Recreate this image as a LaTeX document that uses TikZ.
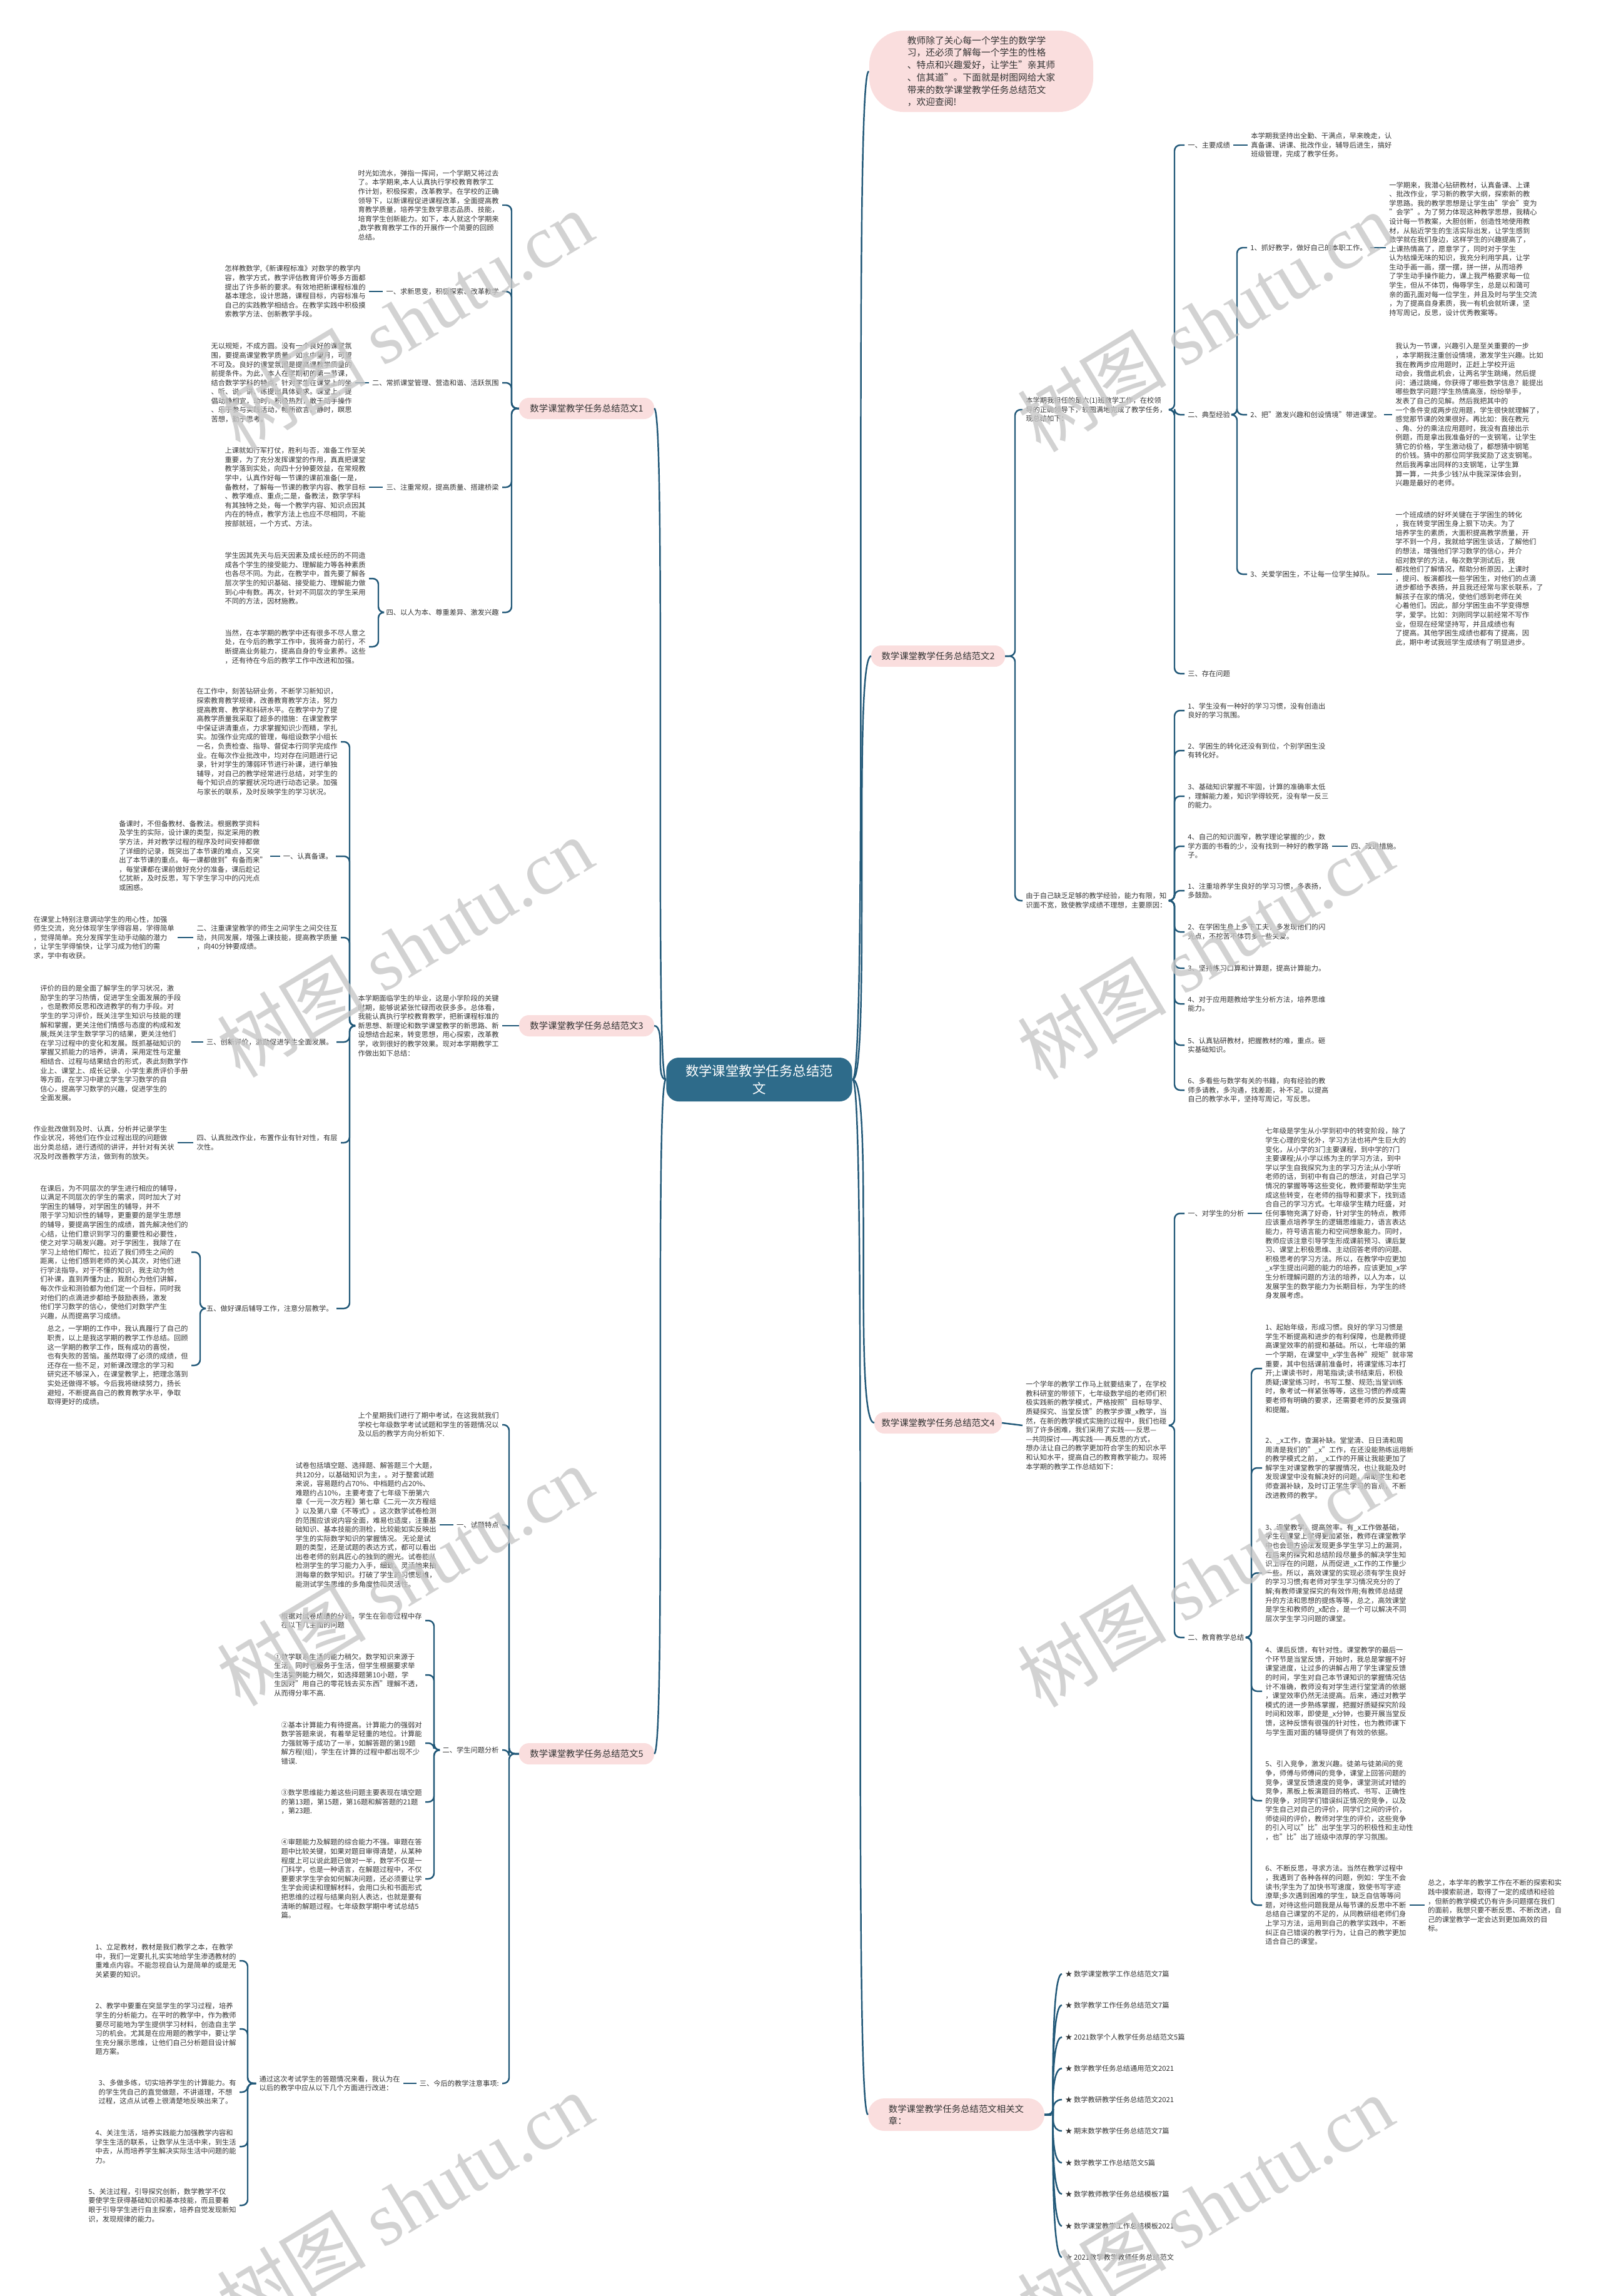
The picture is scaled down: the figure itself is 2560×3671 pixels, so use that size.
\documentclass[tikz,border=0pt]{standalone}
\usepackage{fontspec}
\setmainfont{Noto Sans CJK SC}
\newfontfamily\markfont{Liberation Serif}
\definecolor{wire}{RGB}{33,88,120}
\definecolor{blush}{RGB}{250,222,222}
\definecolor{ink}{RGB}{51,51,51}
\definecolor{deep}{RGB}{46,107,138}
\newcommand\leafsize{\fontsize{3.2pt}{4.15pt}\selectfont}
\tikzset{
  leaf/.style={font=\leafsize, text=ink, align=left, inner sep=0pt, outer sep=1.5pt},
  fan/.style={fill=blush, text=ink, rounded corners=0.16cm, minimum height=0.34cm, inner sep=0pt, outer sep=0pt, font=\fontsize{4.1pt}{5.4pt}\selectfont},
  conn/.style={draw=wire, line width=0.7pt, rounded corners=0.09cm},
  stamp/.style={text=black!22, text opacity=0.8, rotate=31, inner sep=0pt, font=\fontsize{34pt}{34pt}\selectfont},
}
\begin{document}
\begin{tikzpicture}[x=0.01cm,y=-0.01cm]
\useasboundingbox (0,0) rectangle (2560,3671);

\node[fill=deep, text=white, rounded corners=0.2cm, minimum width=2.97cm, minimum height=0.70cm, inner sep=0pt, align=center, font=\fontsize{6.1pt}{8pt}\selectfont] (root) at (1214,1726) {数学课堂教学任务总结范\\文};

\node[fill=blush, text=ink, rounded corners=0.55cm, minimum width=3.58cm, minimum height=1.30cm, inner sep=0pt, align=left, font=\fontsize{4.2pt}{5.6pt}\selectfont] (lead) at (1569,114) {教师除了关心每一个学生的数学学\\习，还必须了解每一个学生的性格\\、特点和兴趣爱好，让学生"亲其师\\、信其道"。下面就是树图网给大家\\带来的数学课堂教学任务总结范文\\，欢迎查阅!};

\node[fan, minimum width=2.16cm] (fanA) at (938,653) {数学课堂教学任务总结范文1};
\node[fan, minimum width=2.16cm] (fanC) at (938,1640) {数学课堂教学任务总结范文3};
\node[fan, minimum width=2.16cm] (fanE) at (938,2804) {数学课堂教学任务总结范文5};
\node[fan, minimum width=2.14cm] (fanB) at (1500,1049) {数学课堂教学任务总结范文2};
\node[fan, minimum width=2.04cm] (fanD) at (1500,2275) {数学课堂教学任务总结范文4};
\node[fan, minimum width=2.82cm, minimum height=0.52cm, rounded corners=0.26cm, align=left] (fanF) at (1529,3381) {数学课堂教学任务总结范文相关文\\章：};

\draw[conn] (root.west) .. controls (1046,1726) and (1066,653) .. (fanA.east);
\draw[conn] (root.west) .. controls (1046,1726) and (1066,1640) .. (fanC.east);
\draw[conn] (root.west) .. controls (1046,1726) and (1066,2804) .. (fanE.east);
\draw[conn] (root.east) .. controls (1390,1726) and (1363,114) .. (lead.west);
\draw[conn] (root.east) .. controls (1393,1726) and (1363,1049) .. (fanB.west);
\draw[conn] (root.east) .. controls (1398,1726) and (1363,2275) .. (fanD.west);
\draw[conn] (root.east) .. controls (1388,1726) and (1363,3381) .. (fanF.west);

\coordinate (tA) at (818,0);
\coordinate (tA4) at (605,0);
\coordinate (tC) at (559,0);
\coordinate (tC6) at (320,0);
\coordinate (tE) at (814,0);
\coordinate (tE2) at (694,0);
\coordinate (tE3) at (396,0);
\coordinate (tB) at (1623,0);
\coordinate (tB0) at (1878,0);
\coordinate (tB02) at (1978,0);
\coordinate (tD) at (1878,0);
\coordinate (tD2) at (2001,0);

\node[leaf, anchor=east] (a0) at (803,328) {时光如流水，弹指一挥间，一个学期又将过去\\了。本学期来,本人认真执行学校教育教学工\\作计划，积极探索，改革教学。在学校的正确\\领导下，以新课程促进课程改革，全面提高教\\育教学质量，培养学生数学意志品质、技能，\\培育学生创新能力。如下，本人就这个学期来\\,数学教育教学工作的开展作一个简要的回顾\\总结。};
\node[leaf, anchor=east] (a1) at (803,466) {一、求新思变，积极探索、改革教学};
\node[leaf, anchor=east] (a1t) at (590,466) {怎样教数学,《新课程标准》对数学的教学内\\容，教学方式，教学评估教育评价等多方面都\\提出了许多新的要求。有效地把新课程标准的\\基本理念，设计思路，课程目标，内容标准与\\自己的实践教学相结合。在教学实践中积极摸\\索教学方法、创新教学手段。};
\node[leaf, anchor=east] (a2) at (803,612) {二、常抓课堂管理、营造和谐、活跃氛围};
\node[leaf, anchor=east] (a2t) at (568,612) {无以规矩，不成方圆。没有一个良好的课堂氛\\围，要提高课堂教学质量，如水中望月，可望\\不可及。良好的课堂氛围是提高课教学质量的\\前提条件。为此，本人在学期初的第一节课，\\结合数学学科的特点，针对学生在课堂上的坐\\、听、说、讲、练提出具体要求。课堂上，提\\倡动静相宜，动时，积极热烈，敢于动手操作\\、乐于参与实践活动，畅所欲言。静时，瞑思\\苦想，勤于思考。};
\node[leaf, anchor=east] (a3) at (803,779) {三、注重常规，提高质量、搭建桥梁};
\node[leaf, anchor=east] (a3t) at (590,779) {上课就如行军打仗，胜利与否，准备工作至关\\重要，为了充分发挥课堂的作用，真真把课堂\\教学落到实处，向四十分钟要效益，在常规教\\学中，认真作好每一节课的课前准备(一是，\\备教材，了解每一节课的教学内容、教学目标\\、教学难点、重点;二是，备教法，数学学科\\有其独特之处，每一个教学内容、知识点因其\\内在的特点，教学方法上也应不尽相同，不能\\按部就班，一个方式、方法。};
\node[leaf, anchor=east] (a4) at (803,979) {四、以人为本、尊重差异、激发兴趣};
\node[leaf, anchor=east] (a4t1) at (590,925) {学生因其先天与后天因素及成长经历的不同造\\成各个学生的接受能力、理解能力等各种素质\\也各尽不同。为此，在教学中，首先要了解各\\层次学生的知识基础、接受能力、理解能力做\\到心中有数。再次，针对不同层次的学生采用\\不同的方法，因材施教。};
\node[leaf, anchor=east] (a4t2) at (590,1034) {当然，在本学期的教学中还有很多不尽人意之\\处，在今后的教学工作中，我将奋力前行，不\\断提高业务能力，提高自身的专业素养。这些\\，还有待在今后的教学工作中改进和加强。};

\draw[conn] (fanA.west) -- (fanA.west -| tA) |- (a0.east);
\draw[conn] (fanA.west) -- (fanA.west -| tA) |- (a1.east);
\draw[conn] (fanA.west) -- (fanA.west -| tA) |- (a2.east);
\draw[conn] (fanA.west) -- (fanA.west -| tA) |- (a3.east);
\draw[conn] (fanA.west) -- (fanA.west -| tA) |- (a4.east);
\draw[conn] (a1.west) -- (a1.west -| a1t.east);
\draw[conn] (a2.west) -- (a2.west -| a2t.east);
\draw[conn] (a3.west) -- (a3.west -| a3t.east);
\draw[conn] (a4.west) -- (a4.west -| tA4) |- (a4t1.east);
\draw[conn] (a4.west) -- (a4.west -| tA4) |- (a4t2.east);

\node[leaf, anchor=east] (c0) at (803,1640) {本学期面临学生的毕业，这是小学阶段的关键\\时期，能够说紧张忙碌而收获多多。总体看，\\我能认真执行学校教育教学，把新课程标准的\\新思想、新理论和数学课堂教学的新思路、新\\设想结合起来，转变思想，用心探索，改革教\\学，收到很好的教学效果。现对本学期教学工\\作做出如下总结：};
\node[leaf, anchor=east] (c1) at (545,1186) {在工作中，刻苦钻研业务，不断学习新知识，\\探索教育教学规律，改善教育教学方法，努力\\提高教育、教学和科研水平。在教学中为了提\\高教学质量我采取了超多的措施：在课堂教学\\中保证讲清重点，力求掌握知识少而精，学扎\\实。加强作业完成的管理，每组设数学小组长\\一名，负责检查、指导、督促本行同学完成作\\业。在每次作业批改中，均对存在问题进行记\\录，针对学生的薄弱环节进行补课，进行单独\\辅导，对自己的教学经常进行总结，对学生的\\每个知识点的掌握状况均进行动态记录。加强\\与家长的联系，及时反映学生的学习状况。};
\node[leaf, anchor=east] (c2) at (537,1369) {一、认真备课。};
\node[leaf, anchor=east] (c2t) at (432,1368) {备课时，不但备教材、备教法。根据教学资料\\及学生的实际，设计课的类型，拟定采用的教\\学方法，并对教学过程的程序及时间安排都做\\了详细的记录，既突出了本节课的难点，又突\\出了本节课的重点。每一课都做到"有备而来"\\，每堂课都在课前做好充分的准备，课后趁记\\忆犹新，及时反思，写下学生学习中的闪光点\\或困惑。};
\node[leaf, anchor=east] (c3) at (545,1499) {二、注重课堂教学的师生之间学生之间交往互\\动，共同发展，增强上课技能，提高教学质量\\，向40分钟要成绩。};
\node[leaf, anchor=east] (c3t) at (284,1499) {在课堂上特别注意调动学生的用心性，加强\\师生交流，充分体现学生学得容易，学得简单\\，觉得简单。充分发挥学生动手动脑的潜力\\，让学生学得愉快，让学习成为他们的需\\求，学中有收获。};
\node[leaf, anchor=east] (c4) at (538,1666) {三、创新评价，激励促进学生全面发展。};
\node[leaf, anchor=east] (c4t) at (306,1668) {评价的目的是全面了解学生的学习状况，激\\励学生的学习热情，促进学生全面发展的手段\\，也是教师反思和改进教学的有力手段。对\\学生的学习评价，既关注学生知识与技能的理\\解和掌握，更关注他们情感与态度的构成和发\\展;既关注学生数学学习的结果，更关注他们\\在学习过程中的变化和发展。既抓基础知识的\\掌握又抓能力的培养，讲清，采用定性与定量\\相结合、过程与结果结合的形式，表此刻数学作\\业上、课堂上、成长记录、小学生素质评价手册\\等方面，在学习中建立学生学习数学的自\\信心，提高学习数学的兴趣，促进学生的\\全面发展。};
\node[leaf, anchor=east] (c5) at (545,1827) {四、认真批改作业，布置作业有针对性，有层\\次性。};
\node[leaf, anchor=east] (c5t) at (284,1827) {作业批改做到及时、认真，分析并记录学生\\作业状况，将他们在作业过程出现的问题做\\出分类总结，进行透彻的讲评，并针对有关状\\况及时改善教学方法，做到有的放矢。};
\node[leaf, anchor=east] (c6) at (538,2092) {五、做好课后辅导工作，注意分层教学。};
\node[leaf, anchor=east] (c6t1) at (306,2002) {在课后，为不同层次的学生进行相应的辅导，\\以满足不同层次的学生的需求，同时加大了对\\学困生的辅导，对学困生的辅导，并不\\限于学习知识性的辅导，更重要的是学生思想\\的辅导，要提高学困生的成绩，首先解决他们的\\心结，让他们意识到学习的重要性和必要性，\\使之对学习萌发兴趣。对于学困生，我除了在\\学习上给他们帮忙，拉近了我们师生之间的\\距离，让他们感到老师的关心其次，对他们进\\行学法指导。对于不懂的知识，我主动为他\\们补课，直到弄懂为止，我耐心为他们讲解，\\每次作业和测验都为他们定一个目标，同时我\\对他们的点滴进步都给予鼓励表扬，激发\\他们学习数学的信心，使他们对数学产生\\兴趣，从而提高学习成绩。};
\node[leaf, anchor=east] (c6t2) at (306,2183) {总之，一学期的工作中，我认真履行了自己的\\职责，以上是我这学期的教学工作总结。回顾\\这一学期的教学工作，既有成功的喜悦，\\也有失败的苦恼。虽然取得了必须的成绩，但\\还存在一些不足，对新课改理念的学习和\\研究还不够深入，在课堂教学上，把理念落到\\实处还做得不够。今后我将继续努力，扬长\\避短，不断提高自己的教育教学水平，争取\\取得更好的成绩。};

\draw[conn] (fanC.west) -- (c0.east);
\draw[conn] (c0.west) -- (c0.west -| tC) |- (c1.east);
\draw[conn] (c0.west) -- (c0.west -| tC) |- (c2.east);
\draw[conn] (c0.west) -- (c0.west -| tC) |- (c3.east);
\draw[conn] (c0.west) -- (c0.west -| tC) |- (c4.east);
\draw[conn] (c0.west) -- (c0.west -| tC) |- (c5.east);
\draw[conn] (c0.west) -- (c0.west -| tC) |- (c6.east);
\draw[conn] (c2.west) -- (c2.west -| c2t.east);
\draw[conn] (c3.west) -- (c3.west -| c3t.east);
\draw[conn] (c4.west) -- (c4.west -| c4t.east);
\draw[conn] (c5.west) -- (c5.west -| c5t.east);
\draw[conn] (c6.west) -- (c6.west -| tC6) |- (c6t1.east);
\draw[conn] (c6.west) -- (c6.west -| tC6) |- (c6t2.east);

\node[leaf, anchor=east] (e0) at (803,2278) {上个星期我们进行了期中考试，在这我就我们\\学校七年级数学考试试题和学生的答题情况以\\及以后的教学方向分析如下.};
\node[leaf, anchor=east] (e1) at (803,2438) {一、试题特点};
\node[leaf, anchor=east] (e1t) at (703,2438) {试卷包括填空题、选择题、解答题三个大题，\\共120分，以基础知识为主，。对于整套试题\\来说，容易题约占70\%、中档题约占20\%、\\难题约占10\%，主要考查了七年级下册第六\\章《一元一次方程》第七章《二元一次方程组\\》以及第八章《不等式》。这次数学试卷检测\\的范围应该说内容全面，难易也适度，注重基\\础知识、基本技能的测检，比较能如实反映出\\学生的实际数学知识的掌握情况。 无论是试\\题的类型，还是试题的表达方式，都可以看出\\出卷老师的别具匠心的独到的眼光。试卷能从\\检测学生的学习能力入手，细致、灵活地来抽\\测每章的数学知识。打破了学生的习惯思维，\\能测试学生思维的多角度性和灵活性。};
\node[leaf, anchor=east] (e2) at (803,2798) {二、学生问题分析};
\node[leaf, anchor=east] (e2t1) at (680,2591) {根据对试卷成绩的分析，学生在答卷过程中存\\在以下几主面的问题};
\node[leaf, anchor=east] (e2t2) at (680,2678) {①数学联系生活的能力稍欠。数学知识来源于\\生活，同时也服务于生活，但学生根据要求举\\生活实例能力稍欠，如选择题第10小题，学\\生因对"用自己的零花钱去买东西"理解不透，\\从而得分率不高.};
\node[leaf, anchor=east] (e2t3) at (680,2787) {②基本计算能力有待提高。计算能力的强弱对\\数学答题来说，有着举足轻重的地位。计算能\\力强就等于成功了一半，如解答题的第19题\\解方程(组)，学生在计算的过程中都出现不少\\错误.};
\node[leaf, anchor=east] (e2t4) at (680,2881) {③数学思维能力差这些问题主要表现在填空题\\的第13题，第15题，第16题和解答题的21题\\，第23题.};
\node[leaf, anchor=east] (e2t5) at (680,3004) {④审题能力及解题的综合能力不强。审题在答\\题中比较关键，如果对题目审得清楚，从某种\\程度上可以说此题已做对一半，数学不仅是一\\门科学，也是一种语言，在解题过程中，不仅\\要要求学生学会如何解决问题，还必须要让学\\生学会阅读和理解材料，会用口头和书面形式\\把思维的过程与结果向别人表达，也就是要有\\清晰的解题过程。七年级数学期中考试总结5\\篇。};
\node[leaf, anchor=east] (e3) at (803,3331) {三、今后的教学注意事项:};
\node[leaf, anchor=east] (e3t) at (645,3331) {通过这次考试学生的答题情况来看，我认为在\\以后的教学中应从以下几个方面进行改进：};
\node[leaf, anchor=east] (e3t1) at (383,3135) {1、立足教材，教材是我们教学之本，在教学\\中，我们一定要扎扎实实地给学生渗透教材的\\重难点内容。不能忽视自认为是简单的或是无\\关紧要的知识。};
\node[leaf, anchor=east] (e3t2) at (383,3244) {2、教学中要重在突显学生的学习过程，培养\\学生的分析能力。在平时的教学中，作为教师\\要尽可能地为学生提供学习材料，创造自主学\\习的机会。尤其是在应用题的教学中，要让学\\生充分展示思维，让他们自己分析题目设计解\\题方案。};
\node[leaf, anchor=east] (e3t3) at (383,3345) {3、多做多练，切实培养学生的计算能力。有\\的学生凭自己的直觉做题，不讲道理，不想\\过程，这点从试卷上很清楚地反映出来了。};
\node[leaf, anchor=east] (e3t4) at (383,3432) {4、关注生活，培养实践能力加强教学内容和\\学生生活的联系，让数学从生活中来，到生活\\中去，从而培养学生解决实际生活中问题的能\\力。};
\node[leaf, anchor=east] (e3t5) at (383,3526) {5、关注过程，引导探究创新，数学教学不仅\\要使学生获得基础知识和基本技能，而且要着\\眼于引导学生进行自主探索，培养自觉发现新知\\识，发现规律的能力。};

\draw[conn] (fanE.west) -- (fanE.west -| tE) |- (e0.east);
\draw[conn] (fanE.west) -- (fanE.west -| tE) |- (e1.east);
\draw[conn] (fanE.west) -- (fanE.west -| tE) |- (e2.east);
\draw[conn] (fanE.west) -- (fanE.west -| tE) |- (e3.east);
\draw[conn] (e1.west) -- (e1.west -| e1t.east);
\draw[conn] (e2.west) -- (e2.west -| tE2) |- (e2t1.east);
\draw[conn] (e2.west) -- (e2.west -| tE2) |- (e2t2.east);
\draw[conn] (e2.west) -- (e2.west -| tE2) |- (e2t3.east);
\draw[conn] (e2.west) -- (e2.west -| tE2) |- (e2t4.east);
\draw[conn] (e2.west) -- (e2.west -| tE2) |- (e2t5.east);
\draw[conn] (e3.west) -- (e3.west -| e3t.east);
\draw[conn] (e3t.west) -- (e3t.west -| tE3) |- (e3t1.east);
\draw[conn] (e3t.west) -- (e3t.west -| tE3) |- (e3t2.east);
\draw[conn] (e3t.west) -- (e3t.west -| tE3) |- (e3t3.east);
\draw[conn] (e3t.west) -- (e3t.west -| tE3) |- (e3t4.east);
\draw[conn] (e3t.west) -- (e3t.west -| tE3) |- (e3t5.east);

\node[leaf, anchor=west] (b0) at (1635,655) {本学期我担任的是六(1)班数学工作，在校领\\导的正确领导下，较圆满地完成了教学任务，\\现总结如下：};
\node[leaf, anchor=west] (b01) at (1894,232) {一、主要成绩};
\node[leaf, anchor=west] (b01t) at (1995,232) {本学期我坚持出全勤、干满点，早来晚走，认\\真备课、讲课、批改作业，辅导后进生，搞好\\班级管理，完成了教学任务。};
\node[leaf, anchor=west] (b02) at (1894,663) {二、典型经验};
\node[leaf, anchor=west] (b021) at (1994,396) {1、抓好教学，做好自己的本职工作。};
\node[leaf, anchor=west] (b021t) at (2216,398) {一学期来，我潜心钻研教材，认真备课、上课\\、批改作业，学习新的教学大纲，探索新的教\\学思路。我的教学思想是让学生由"学会"变为\\"会学"。为了努力体现这种教学思想，我精心\\设计每一节教案，大胆创新，创造性地使用教\\材，从贴近学生的生活实际出发，让学生感到\\数学就在我们身边，这样学生的兴趣提高了，\\上课热情高了，愿意学了，同时对于学生\\认为枯燥无味的知识，我充分利用学具，让学\\生动手画一画，摆一摆，拼一拼，从而培养\\了学生动手操作能力，课上我严格要求每一位\\学生，但从不体罚，侮辱学生，总是以和蔼可\\亲的面孔面对每一位学生，并且及时与学生交流\\，为了提高自身素质，我一有机会就听课，坚\\持写周记，反思，设计优秀教案等。};
\node[leaf, anchor=west] (b022) at (1994,663) {2、把"激发兴趣和创设情境"带进课堂。};
\node[leaf, anchor=west] (b022t) at (2226,663) {我认为一节课，兴趣引入是至关重要的一步\\，本学期我注重创设情境，激发学生兴趣。比如\\我在教两步应用题时，正赶上学校开运\\动会，我借此机会，让两名学生跳绳，然后提\\问：通过跳绳，你获得了哪些数学信息？能提出\\哪些数学问题?学生热情高涨，纷纷举手，\\发表了自己的见解。然后我把其中的\\一个条件变成两步应用题，学生很快就理解了，\\感觉那节课的效果很好。再比如：我在教元\\、角、分的乘法应用题时，我没有直接出示\\例题，而是拿出我准备好的一支钢笔，让学生\\猜它的价格，学生激动极了，都想猜中钢笔\\的价钱。猜中的那位同学我奖励了这支钢笔。\\然后我再拿出同样的3支钢笔，让学生算\\算一算，一共多少钱?从中我深深体会到，\\兴趣是最好的老师。};
\node[leaf, anchor=west] (b023) at (1994,918) {3、关爱学困生，不让每一位学生掉队。};
\node[leaf, anchor=west] (b023t) at (2226,925) {一个班成绩的好坏关键在于学困生的转化\\，我在转变学困生身上狠下功夫。为了\\培养学生的素质，大面积提高教学质量，开\\学不到一个月，我就给学困生谈话，了解他们\\的想法，增强他们学习数学的信心，并介\\绍对数学的方法，每次数学测试后，我\\都找他们了解情况，帮助分析原因，上课时\\，提问、板演都找一些学困生，对他们的点滴\\进步都给予表扬，并且我还经常与家长联系，了\\解孩子在家的情况，使他们感到老师在关\\心着他们。因此，部分学困生由不学变得想\\学，爱学。比如：刘刚同学以前经常不写作\\业，但现在经常坚持写，并且成绩也有\\了提高。其他学困生成绩也都有了提高，因\\此，期中考试我班学生成绩有了明显进步。};
\node[leaf, anchor=west] (b03) at (1894,1077) {三、存在问题};
\node[leaf, anchor=west] (b1) at (1635,1440) {由于自己缺乏足够的教学经验，能力有限，知\\识面不宽，致使教学成绩不理想，主要原因：};
\node[leaf, anchor=west] (b11) at (1894,1136) {1、学生没有一种好的学习习惯，没有创造出\\良好的学习氛围。};
\node[leaf, anchor=west] (b12) at (1894,1200) {2、学困生的转化还没有到位，个别学困生没\\有转化好。};
\node[leaf, anchor=west] (b13) at (1894,1273) {3、基础知识掌握不牢固，计算的准确率太低\\，理解能力差，知识学得较死，没有举一反三\\的能力。};
\node[leaf, anchor=west] (b14) at (1894,1353) {4、自己的知识面窄，教学理论掌握的少，数\\学方面的书看的少，没有找到一种好的教学路\\子。};
\node[leaf, anchor=west] (b14x) at (2155,1353) {四、改进措施。};
\node[leaf, anchor=west] (b15) at (1894,1424) {1、注重培养学生良好的学习习惯，多表扬，\\多鼓励。};
\node[leaf, anchor=west] (b16) at (1894,1490) {2、在学困生身上多下工夫，多发现他们的闪\\光点，不挖苦不体罚多一些关爱。};
\node[leaf, anchor=west] (b17) at (1894,1548) {3、坚持练习口算和计算题，提高计算能力。};
\node[leaf, anchor=west] (b18) at (1894,1605) {4、对于应用题教给学生分析方法，培养思维\\能力。};
\node[leaf, anchor=west] (b19) at (1894,1671) {5、认真钻研教材，把握教材的难，重点。砸\\实基础知识。};
\node[leaf, anchor=west] (b20) at (1894,1743) {6、多看些与数学有关的书籍，向有经验的教\\师多请教，多沟通，找差距，补不足。以提高\\自己的教学水平，坚持写周记，写反思。};

\draw[conn] (fanB.east) -- (fanB.east -| tB) |- (b0.west);
\draw[conn] (fanB.east) -- (fanB.east -| tB) |- (b1.west);
\draw[conn] (b0.east) -- (b0.east -| tB0) |- (b01.west);
\draw[conn] (b0.east) -- (b0.east -| tB0) |- (b02.west);
\draw[conn] (b0.east) -- (b0.east -| tB0) |- (b03.west);
\draw[conn] (b01.east) -- (b01.east -| b01t.west);
\draw[conn] (b02.east) -- (b02.east -| tB02) |- (b021.west);
\draw[conn] (b02.east) -- (b02.east -| tB02) |- (b022.west);
\draw[conn] (b02.east) -- (b02.east -| tB02) |- (b023.west);
\draw[conn] (b021.east) -- (b021.east -| b021t.west);
\draw[conn] (b022.east) -- (b022.east -| b022t.west);
\draw[conn] (b023.east) -- (b023.east -| b023t.west);
\draw[conn] (b1.east) -- (b1.east -| tB0) |- (b11.west);
\draw[conn] (b1.east) -- (b1.east -| tB0) |- (b12.west);
\draw[conn] (b1.east) -- (b1.east -| tB0) |- (b13.west);
\draw[conn] (b1.east) -- (b1.east -| tB0) |- (b14.west);
\draw[conn] (b1.east) -- (b1.east -| tB0) |- (b15.west);
\draw[conn] (b1.east) -- (b1.east -| tB0) |- (b16.west);
\draw[conn] (b1.east) -- (b1.east -| tB0) |- (b17.west);
\draw[conn] (b1.east) -- (b1.east -| tB0) |- (b18.west);
\draw[conn] (b1.east) -- (b1.east -| tB0) |- (b19.west);
\draw[conn] (b1.east) -- (b1.east -| tB0) |- (b20.west);
\draw[conn] (b14.east) -- (b14x.west);

\node[leaf, anchor=west] (d0) at (1635,2279) {一个学年的教学工作马上就要结束了，在学校\\教科研室的带领下，七年级数学组的老师们积\\极实践新的教学模式，严格按照"目标导学、\\质疑探究、当堂反馈"的教学步骤\_x教学，当\\然，在新的教学模式实施的过程中，我们也碰\\到了许多困难，我们采用了实践——反思—\\—共同探讨——再实践——再反思的方式，\\想办法让自己的教学更加符合学生的知识水平\\和认知水平，提高自己的教育教学能力。现将\\本学期的教学工作总结如下：};
\node[leaf, anchor=west] (d1) at (1894,1940) {一、对学生的分析};
\node[leaf, anchor=west] (d1t) at (2018,1940) {七年级是学生从小学到初中的转变阶段，除了\\学生心理的变化外，学习方法也将产生巨大的\\变化，从小学的3门主要课程，到中学的7门\\主要课程;从小学以练为主的学习方法，到中\\学以学生自我探究为主的学习方法;从小学听\\老师的话，到初中有自己的想法，对自己学习\\情况的掌握等等这些变化，教师要帮助学生完\\成这些转变，在老师的指导和要求下，找到适\\合自己的学习方式。七年级学生精力旺盛，对\\任何事物充满了好奇，针对学生的特点，教师\\应该重点培养学生的逻辑思维能力，语言表达\\能力，符号语言能力和空间想象能力。同时，\\教师应该注意引导学生形成课前预习、课后复\\习、课堂上积极思维、主动回答老师的问题、\\积极思考的学习方法。所以，在教学中应更加\\\_x学生提出问题的能力的培养，应该更加\_x学\\生分析理解问题的方法的培养，以人为本，以\\发展学生的数学能力为长期目标，为学生的终\\身发展考虑。};
\node[leaf, anchor=west] (d2) at (1894,2618) {二、教育教学总结};
\node[leaf, anchor=west] (d21) at (2018,2188) {1、起始年级，形成习惯。良好的学习习惯是\\学生不断提高和进步的有利保障，也是教师提\\高课堂效率的前提和基础。所以，七年级的第\\一个学期，在课堂中\_x学生各种"规矩"就非常\\重要，其中包括课前准备时，将课堂练习本打\\开;上课读书时，用笔指读;读书结束后，积极\\质疑;课堂练习时，书写工整、规范;当堂训练\\时，象考试一样紧张等等，这些习惯的养成需\\要老师有明确的要求，还需要老师的反复强调\\和提醒。};
\node[leaf, anchor=west] (d22) at (2018,2347) {2、\_x工作，查漏补缺。堂堂清、日日清和周\\周清是我们的"\_x"工作，在还没能熟练运用新\\的教学模式之前，\_x工作的开展让我能更加了\\解学生对课堂教学的掌握情况，也让我能及时\\发现课堂中没有解决好的问题，帮助学生和老\\师查漏补缺，及时订正学生学习的盲点，不断\\改进教师的教学。};
\node[leaf, anchor=west] (d23) at (2018,2515) {3、课堂教学，提高效率。有\_x工作做基础，\\学生在课堂上学得更加紧张，教师在课堂教学\\中也会想方设法发现更多学生学习上的漏洞，\\在后来的探究和总结阶段尽量多的解决学生知\\识上存在的问题，从而促进\_x工作的工作量少\\一些。所以，高效课堂的实现必须有学生良好\\的学习习惯;有老师对学生学习情况充分的了\\解;有教师课堂探究的有效作用;有教师总结提\\升的方法和思想的提炼等等，总之，高效课堂\\是学生和教师的\_x配合，是一个可以解决不同\\层次学生学习问题的课堂。};
\node[leaf, anchor=west] (d24) at (2018,2704) {4、课后反馈，有针对性。课堂教学的最后一\\个环节是当堂反馈，开始时，我总是掌握不好\\课堂进度，让过多的讲解占用了学生课堂反馈\\的时间，学生对自己本节课知识的掌握情况估\\计不准确，教师没有对学生进行堂堂清的依据\\，课堂效率仍然无法提高。后来，通过对教学\\模式的进一步熟练掌握，把握好质疑探究阶段\\时间和效率，即使是\_x分钟，也要开展当堂反\\馈，这种反馈有很强的针对性，也为教师课下\\与学生面对面的辅导提供了有效的依据。};
\node[leaf, anchor=west] (d25) at (2018,2879) {5、引入竞争，激发兴趣。徒弟与徒弟间的竞\\争，师傅与师傅间的竞争，课堂上回答问题的\\竞争，课堂反馈速度的竞争，课堂测试对错的\\竞争，黑板上板演题目的格式、书写、正确性\\的竞争，对同学们错误纠正情况的竞争，以及\\学生自己对自己的评价，同学们之间的评价，\\师徒间的评价，教师对学生的评价，这些竞争\\的引入可以"比"出学生学习的积极性和主动性\\，也"比"出了班级中浓厚的学习氛围。};
\node[leaf, anchor=west] (d26) at (2018,3046) {6、不断反思，寻求方法。当然在教学过程中\\，我遇到了各种各样的问题，例如：学生不会\\读书;学生为了加快书写速度，致使书写字迹\\潦草;多次遇到困难的学生，缺乏自信等等问\\题，对待这些问题我是从每节课的反思中不断\\总结自己课堂的不足的，从同教研组老师们身\\上学习方法，运用到自己的教学实践中，不断\\纠正自己错误的教学行为，让自己的教学更加\\适合自己的课堂。};
\node[leaf, anchor=west] (d26x) at (2278,3047) {总之，本学年的教学工作在不断的探索和实\\践中摸索前进，取得了一定的成绩和经验\\，但新的教学模式仍有许多问题摆在我们\\的面前，我想只要不断反思、不断改进，自\\己的课堂教学一定会达到更加高效的目\\标。};

\draw[conn] (fanD.east) -- (d0.west);
\draw[conn] (d0.east) -- (d0.east -| tD) |- (d1.west);
\draw[conn] (d0.east) -- (d0.east -| tD) |- (d2.west);
\draw[conn] (d1.east) -- (d1.east -| d1t.west);
\draw[conn] (d2.east) -- (d2.east -| tD2) |- (d21.west);
\draw[conn] (d2.east) -- (d2.east -| tD2) |- (d22.west);
\draw[conn] (d2.east) -- (d2.east -| tD2) |- (d23.west);
\draw[conn] (d2.east) -- (d2.east -| tD2) |- (d24.west);
\draw[conn] (d2.east) -- (d2.east -| tD2) |- (d25.west);
\draw[conn] (d2.east) -- (d2.east -| tD2) |- (d26.west);
\draw[conn] (d26.east) -- (d26.east -| d26x.west);

\node[leaf, anchor=west] (f1) at (1698,3156) {★ 数学课堂教学工作总结范文7篇};
\node[leaf, anchor=west] (f2) at (1698,3206) {★ 数学教学工作任务总结范文7篇};
\node[leaf, anchor=west] (f3) at (1698,3257) {★ 2021数学个人教学任务总结范文5篇};
\node[leaf, anchor=west] (f4) at (1698,3307) {★ 数学教学任务总结通用范文2021};
\node[leaf, anchor=west] (f5) at (1698,3357) {★ 数学教研教学任务总结范文2021};
\node[leaf, anchor=west] (f6) at (1698,3407) {★ 期末数学教学任务总结范文7篇};
\node[leaf, anchor=west] (f7) at (1698,3458) {★ 数学教学工作总结范文5篇};
\node[leaf, anchor=west] (f8) at (1698,3508) {★ 数学教师教学任务总结模板7篇};
\node[leaf, anchor=west] (f9) at (1698,3559) {★ 数学课堂教学工作总结模板2021};
\node[leaf, anchor=west] (f10) at (1698,3609) {★ 2021数学教学教师任务总结范文};
\foreach \k in {1,...,10}
  \draw[conn] (fanF.east) .. controls (1688,3381) and (1680,3381) .. (1684,3381) .. controls (1684,3381) and (1680,0 |- f\k.west) .. (f\k.west);

\node[stamp] (mk1) at (647,513) {树图 {\markfont shutu.cn}};
\node[stamp] (mk2) at (1927,515) {树图 {\markfont shutu.cn}};
\node[stamp] (mk3) at (647,1515) {树图 {\markfont shutu.cn}};
\node[stamp] (mk4) at (1927,1518) {树图 {\markfont shutu.cn}};
\node[stamp] (mk5) at (647,2520) {树图 {\markfont shutu.cn}};
\node[stamp] (mk6) at (1927,2522) {树图 {\markfont shutu.cn}};
\node[stamp] (mk7) at (647,3522) {树图 {\markfont shutu.cn}};
\node[stamp] (mk8) at (1927,3526) {树图 {\markfont shutu.cn}};
\end{tikzpicture}
\end{document}
